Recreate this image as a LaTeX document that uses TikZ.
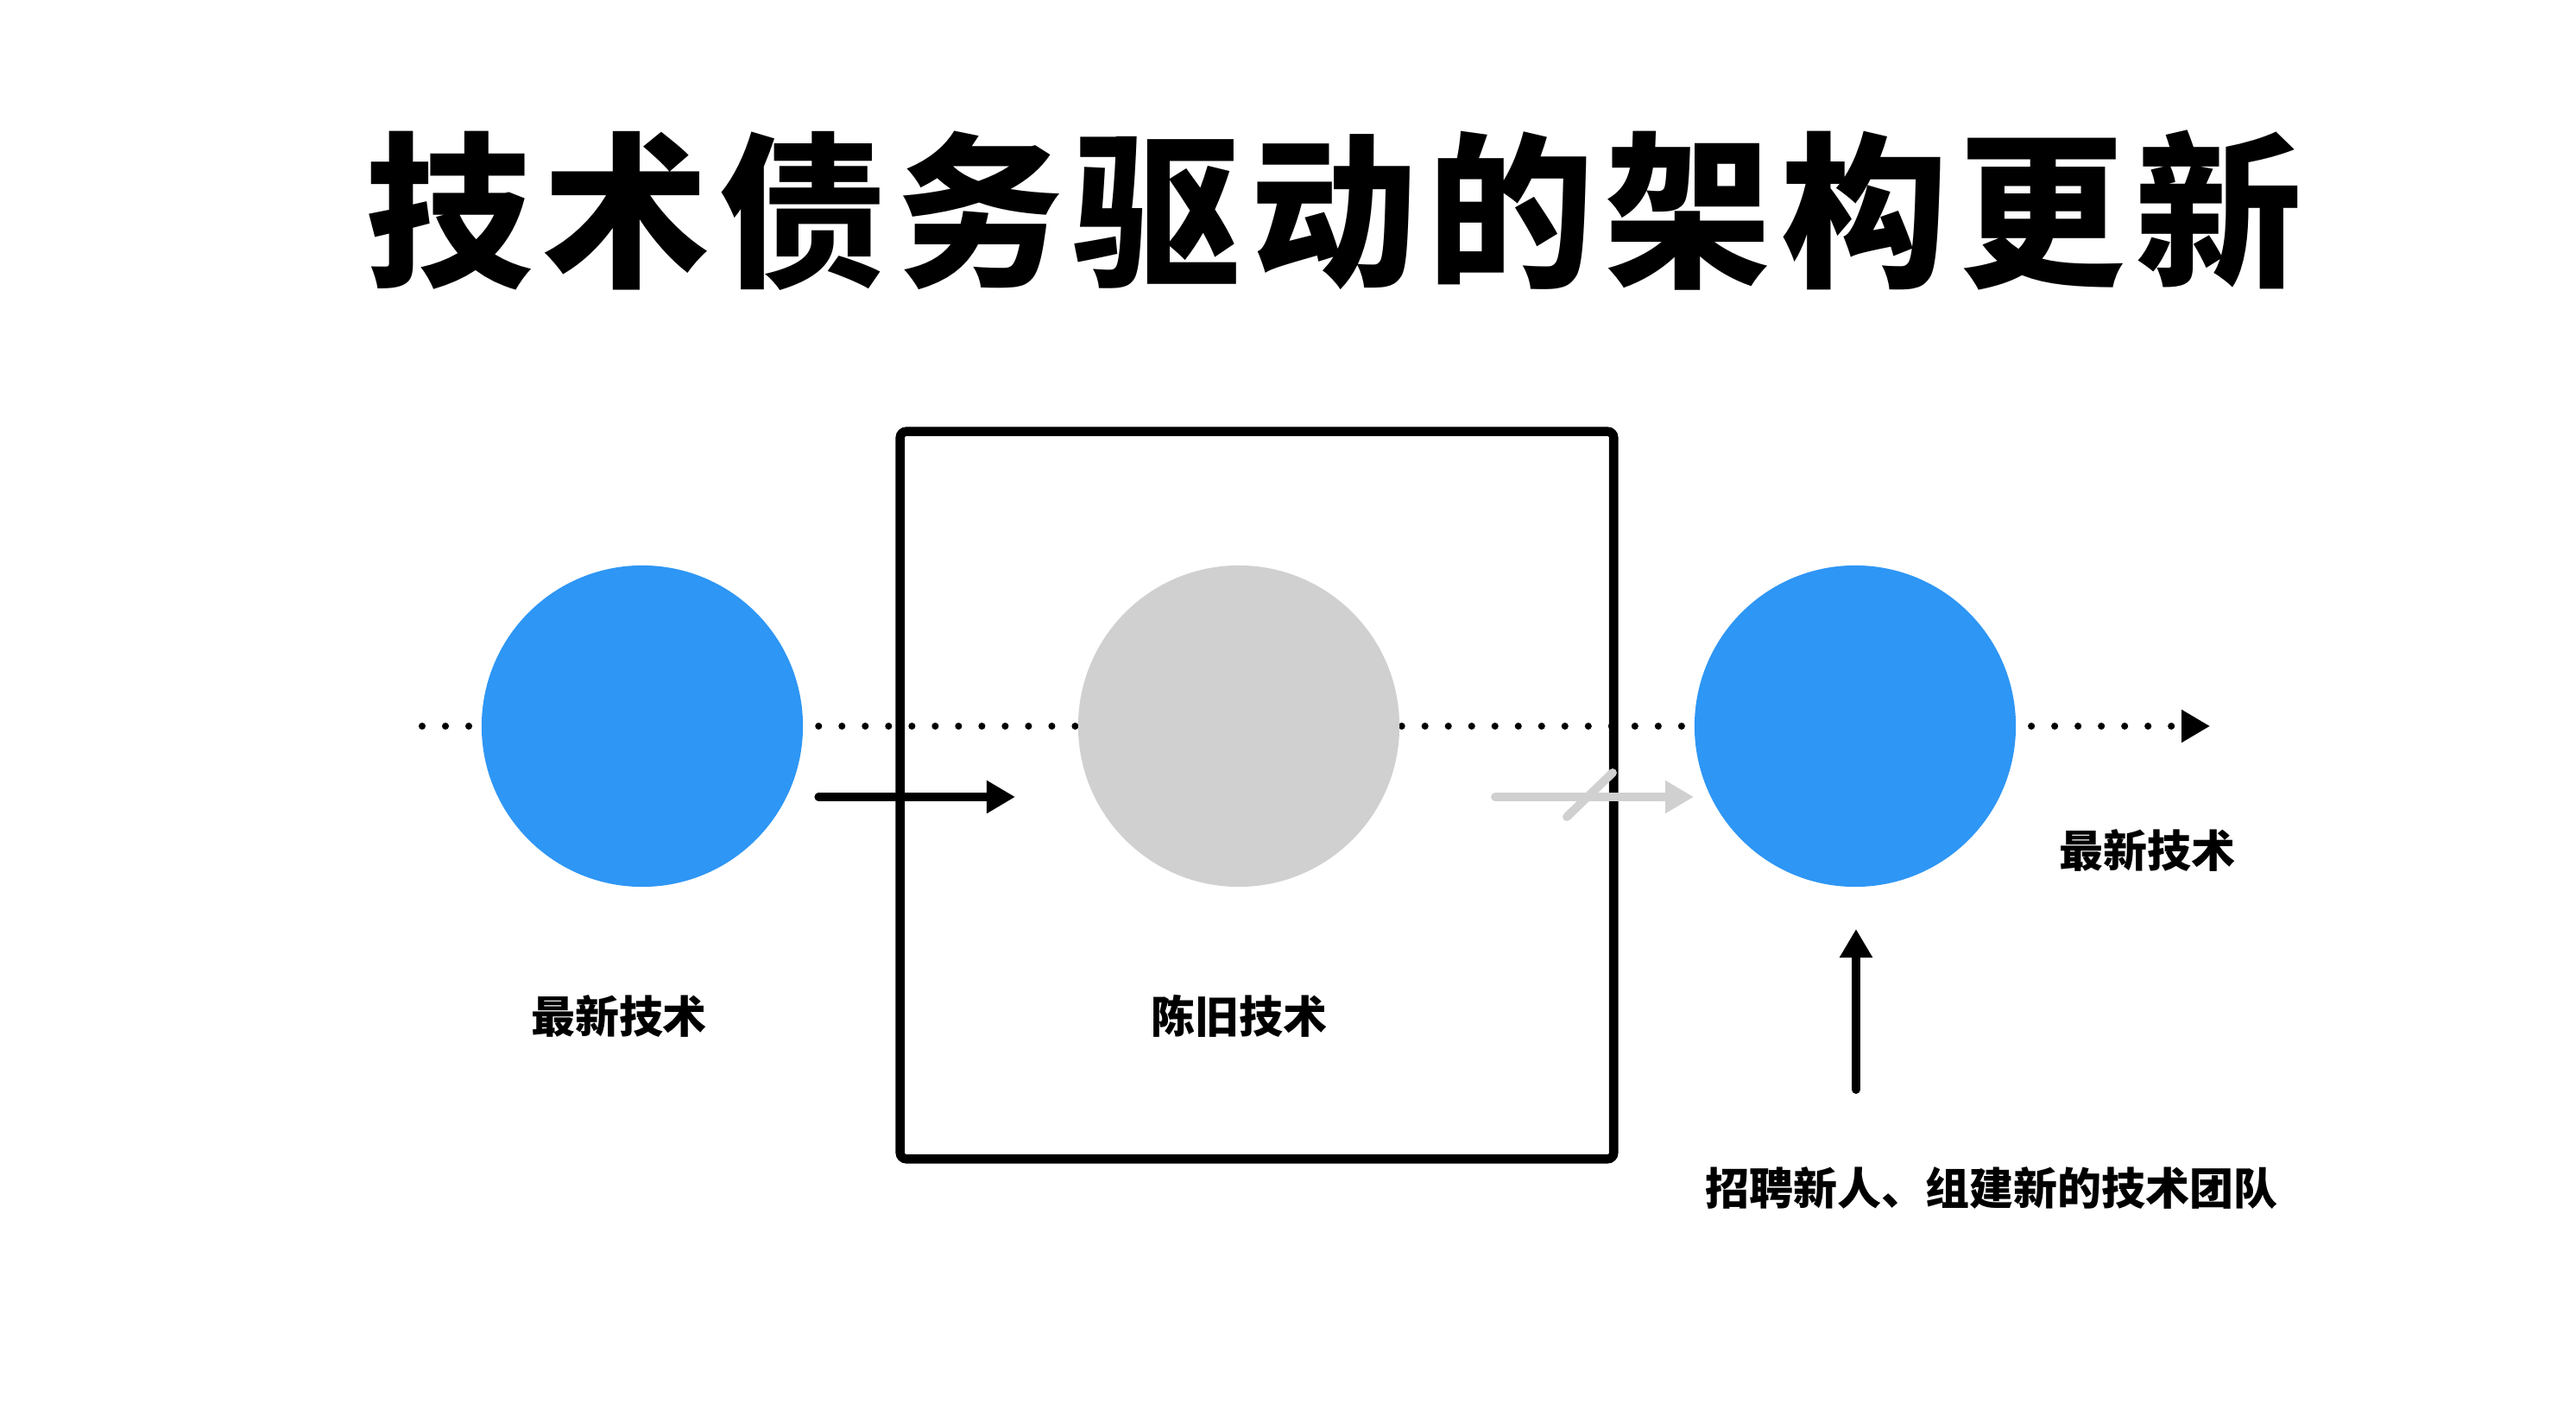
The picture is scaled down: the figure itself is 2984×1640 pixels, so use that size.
\documentclass[tikz,border=0pt]{standalone}
\usepackage{fontspec}
\newfontfamily\cjk{Noto Sans CJK SC}
\newfontfamily\cjktitle{Noto Sans CJK SC}[LetterSpace=6]
\usetikzlibrary{arrows.meta}
\definecolor{techblue}{HTML}{2E96F5}
\definecolor{oldgray}{HTML}{D0D0D0}
\begin{document}
\begin{tikzpicture}[x=0.01cm,y=-0.01cm,
  ball/.style={circle,minimum size=3.72cm,inner sep=0pt},
  lbl/.style={font=\cjk\bfseries\fontsize{14.5pt}{16pt}\selectfont,inner sep=0pt},
  sketch/.style={line width=2.6pt,line cap=round,line join=round},
  tip/.style={-{Triangle[length=0.33cm,width=0.36cm]}}]
\useasboundingbox[fill=white] (0,0) rectangle (2984,1640);
% title
\node[font=\cjktitle\bfseries\fontsize{55pt}{60pt}\selectfont,inner sep=0pt] (title) at (1545,244) {技术债务驱动的架构更新};
% dotted axis
\coordinate (axstart) at (489,841);
\coordinate (axend) at (2560,841);
\draw[line width=2.3pt,line cap=round,dash pattern=on 0pt off 0.27cm,tip] (axstart) -- (axend);
% circles
\node[ball,fill=techblue] (c1) at (744,841) {};
\node[ball,fill=oldgray] (c2) at (1435,841) {};
\node[ball,fill=techblue] (c3) at (2149,841) {};
% box
\node[draw,line width=3pt,rounded corners=2pt,minimum width=8.26cm,minimum height=8.42cm,inner sep=0pt] (box) at (1456,921) {};
% black arrow
\coordinate (a1s) at (948,923);
\coordinate (a1e) at (1176,923);
\draw[sketch,tip] (a1s) -- (a1e);
% gray arrow with slash
\coordinate (a2s) at (1732,923);
\coordinate (a2e) at (1962,923);
\draw[sketch,oldgray,line width=2.8pt,tip] (a2s) -- (a2e);
\coordinate (s1) at (1815,946);
\coordinate (s2) at (1868,895);
\draw[sketch,oldgray,line width=2.8pt] (s1) -- (s2);
% up arrow
\coordinate (a3s) at (2150,1262);
\coordinate (a3e) at (2150,1076);
\draw[sketch,line width=2.8pt,tip] (a3s) -- (a3e);
% labels
\node[lbl] (l1) at (717,1177) {最新技术};
\node[lbl] (l2) at (1435,1177) {陈旧技术};
\node[lbl] (l3) at (2487,985) {最新技术};
\node[lbl] (l4) at (2307,1376) {招聘新人、组建新的技术团队};
\end{tikzpicture}
\end{document}
